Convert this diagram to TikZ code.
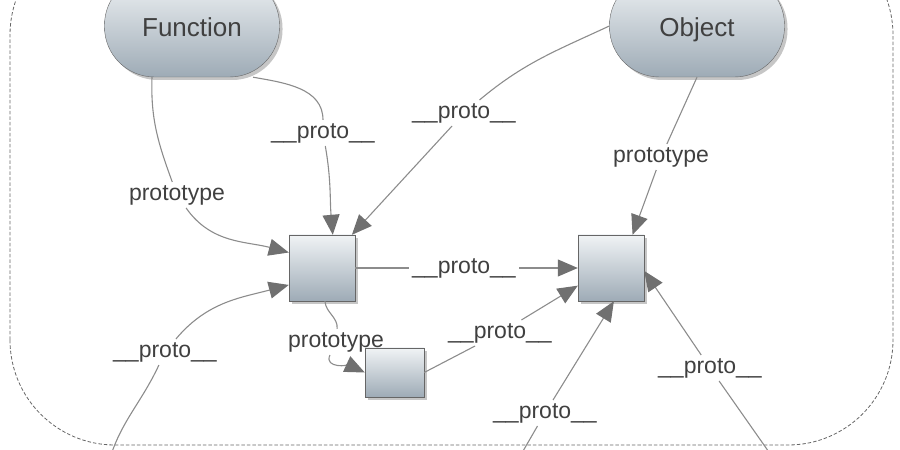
\documentclass[tikz,border=0pt]{standalone}
\usepackage{fontspec}
\setmainfont{Liberation Sans}
\usetikzlibrary{positioning, arrows.meta, shadows}
\definecolor{topgray}{HTML}{F0F3F5}
\definecolor{botgray}{HTML}{9EABB6}
\definecolor{edgegray}{HTML}{8C8C8C}
\definecolor{tipgray}{HTML}{707070}
\tikzset{
    every node/.style={font=\fontsize{23}{26}\selectfont, text=black!75},
    obj/.style={draw=black!60, top color=topgray, bottom color=botgray,
        drop shadow={shadow xshift=3pt, shadow yshift=-3pt, opacity=0.45}},
    pill/.style={obj, rounded corners=50pt, minimum width=175pt, minimum height=102pt,
        text height=22pt, text depth=1pt, font=\fontsize{26}{30}\selectfont},
    proto/.style={obj, minimum width=66pt, minimum height=66pt},
    lbl/.style={inner sep=3pt},
    arr/.style={draw=edgegray, line width=1.1pt,
        -{Triangle[length=20pt, width=17pt, color=tipgray, fill=tipgray]}},
    frame/.style={draw=black!60, dash pattern=on 3.5pt off 2pt, line width=0.8pt, rounded corners=105pt},
}

\begin{document}
\begin{tikzpicture}[x=1pt, y=1pt]
                \useasboundingbox (0,0) rectangle (900,450);
                \draw[frame] (10,5) rectangle (893,520);

                \node[pill] (fn) at (192,424) {Function};
                \node[pill] (ob) at (697,424) {Object};
                \node[proto] (fp) at (322,182) {};
                \node[proto] (op) at (611,182) {};
                \node[obj, minimum width=59pt, minimum height=49pt] (ip) at (394.5,77.5) {};

                \coordinate (bl) at (108,-15);
                \coordinate (bm) at (515,-15);
                \coordinate (br) at (778,-15);

                \node[lbl] (l1) at (177,255) {prototype};
                \node[lbl] (l2) at (323,317) {\_\_proto\_\_};
                \node[lbl] (l3) at (464,337) {\_\_proto\_\_};
                \node[lbl] (l4) at (661,293) {prototype};
                \node[lbl] (l5) at (464,182) {\_\_proto\_\_};
                \node[lbl] (l6) at (336,108) {prototype};
                \node[lbl] (l7) at (500,117) {\_\_proto\_\_};
                \node[lbl] (l8) at (165,98) {\_\_proto\_\_};
                \node[lbl] (l9) at (545,37) {\_\_proto\_\_};
                \node[lbl] (l10) at (710,82) {\_\_proto\_\_};

                \draw[arr] (fn.232) to[out=-92, in=110] (l1) to[out=-55, in=165] (fp.155);
                \draw[arr] (fn.-40) to[out=-10, in=90] (l2) to[out=-80, in=95] (fp.72);
                \draw[arr] (ob.west) to[out=205, in=40] (l3) -- (fp.48);
                \draw[arr] (ob.south) -- (l4) -- (op.57);
                \draw[arr] (fp) -- (l5) -- (op);
                \draw[arr] (fp.-85) to[out=-85, in=85] (l6) to[out=-115, in=155] (ip.west);
                \draw[arr] (ip.east) -- (l7) -- (op.208);
                \draw[arr] (bl) to[out=75, in=-115] (l8) to[out=50, in=195] (fp.207);
                \draw[arr] (bm) -- (l9) -- (op.-85);
                \draw[arr] (br) -- (l10) -- (op.-5);
            \end{tikzpicture}
\end{document}
